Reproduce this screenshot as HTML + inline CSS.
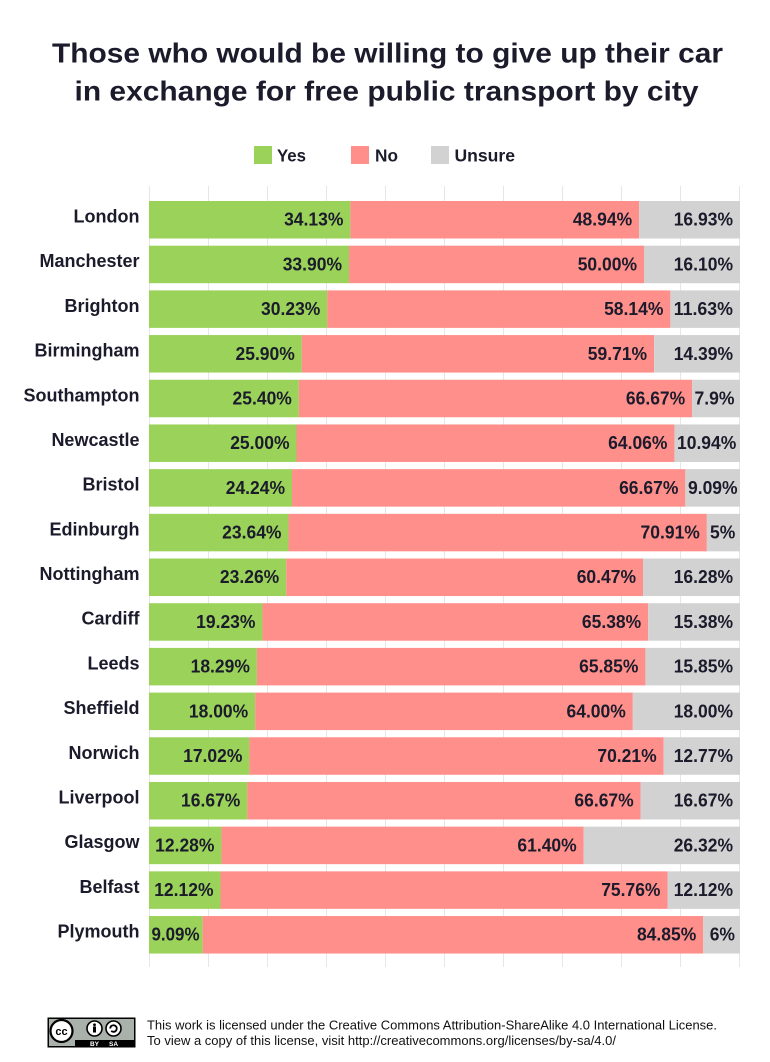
<!DOCTYPE html>
<html>
<head>
<meta charset="utf-8">
<style>
html,body{margin:0;padding:0;background:#fff;}
svg{display:block;}
text{font-family:"Liberation Sans",Arial,sans-serif;}
</style>
</head>
<body>
<svg width="770" height="1062" viewBox="0 0 770 1062" xmlns="http://www.w3.org/2000/svg">
<rect width="770" height="1062" fill="#fff"/>
<!-- Title -->
<g fill="#1b1b2b" font-weight="bold" font-size="27.5">
<text x="52" y="62.5" textLength="671" lengthAdjust="spacingAndGlyphs">Those who would be willing to give up their car</text>
<text x="74.5" y="100.5" textLength="624" lengthAdjust="spacingAndGlyphs">in exchange for free public transport by city</text>
</g>
<!-- Legend -->
<rect x="254" y="146" width="18" height="18" fill="#9ad25a"/>
<rect x="351" y="146" width="18" height="18" fill="#ff8f8b"/>
<rect x="431" y="146" width="18" height="18" fill="#d2d2d2"/>
<g fill="#1b1b2b" font-weight="bold" font-size="17.5">
<text x="277" y="161.7" textLength="29" lengthAdjust="spacingAndGlyphs">Yes</text>
<text x="375" y="161.7" textLength="23" lengthAdjust="spacingAndGlyphs">No</text>
<text x="454.5" y="161.7" textLength="60.5" lengthAdjust="spacingAndGlyphs">Unsure</text>
</g>
<!-- Gridlines -->
<g stroke="#e6e6e6" stroke-width="1">
<line x1="149.5" y1="186" x2="149.5" y2="967"/>
<line x1="208.5" y1="186" x2="208.5" y2="967"/>
<line x1="267.5" y1="186" x2="267.5" y2="967"/>
<line x1="326.5" y1="186" x2="326.5" y2="967"/>
<line x1="385.5" y1="186" x2="385.5" y2="967"/>
<line x1="444.5" y1="186" x2="444.5" y2="967"/>
<line x1="503.5" y1="186" x2="503.5" y2="967"/>
<line x1="562.5" y1="186" x2="562.5" y2="967"/>
<line x1="621.5" y1="186" x2="621.5" y2="967"/>
<line x1="680.5" y1="186" x2="680.5" y2="967"/>
<line x1="739.5" y1="186" x2="739.5" y2="967"/>
</g>
<!-- Bars -->
<g>
<!-- London -->
<rect x="149" y="201" width="201.37" height="37.5" fill="#9ad25a"/>
<rect x="350.37" y="201" width="288.75" height="37.5" fill="#ff8f8b"/>
<rect x="639.12" y="201" width="100.88" height="37.5" fill="#d2d2d2"/>
<!-- Manchester -->
<rect x="149" y="245.69" width="200.01" height="37.5" fill="#9ad25a"/>
<rect x="349.01" y="245.69" width="295" height="37.5" fill="#ff8f8b"/>
<rect x="644.01" y="245.69" width="95.99" height="37.5" fill="#d2d2d2"/>
<!-- Brighton -->
<rect x="149" y="290.38" width="178.36" height="37.5" fill="#9ad25a"/>
<rect x="327.36" y="290.38" width="343.03" height="37.5" fill="#ff8f8b"/>
<rect x="670.39" y="290.38" width="69.61" height="37.5" fill="#d2d2d2"/>
<!-- Birmingham -->
<rect x="149" y="335.07" width="152.81" height="37.5" fill="#9ad25a"/>
<rect x="301.81" y="335.07" width="352.29" height="37.5" fill="#ff8f8b"/>
<rect x="654.10" y="335.07" width="85.9" height="37.5" fill="#d2d2d2"/>
<!-- Southampton -->
<rect x="149" y="379.76" width="149.86" height="37.5" fill="#9ad25a"/>
<rect x="298.86" y="379.76" width="393.35" height="37.5" fill="#ff8f8b"/>
<rect x="692.21" y="379.76" width="47.79" height="37.5" fill="#d2d2d2"/>
<!-- Newcastle -->
<rect x="149" y="424.45" width="147.5" height="37.5" fill="#9ad25a"/>
<rect x="296.5" y="424.45" width="377.95" height="37.5" fill="#ff8f8b"/>
<rect x="674.45" y="424.45" width="65.55" height="37.5" fill="#d2d2d2"/>
<!-- Bristol -->
<rect x="149" y="469.14" width="143.02" height="37.5" fill="#9ad25a"/>
<rect x="292.02" y="469.14" width="393.35" height="37.5" fill="#ff8f8b"/>
<rect x="685.37" y="469.14" width="54.63" height="37.5" fill="#d2d2d2"/>
<!-- Edinburgh -->
<rect x="149" y="513.83" width="139.48" height="37.5" fill="#9ad25a"/>
<rect x="288.48" y="513.83" width="418.37" height="37.5" fill="#ff8f8b"/>
<rect x="706.85" y="513.83" width="33.15" height="37.5" fill="#d2d2d2"/>
<!-- Nottingham -->
<rect x="149" y="558.52" width="137.23" height="37.5" fill="#9ad25a"/>
<rect x="286.23" y="558.52" width="356.77" height="37.5" fill="#ff8f8b"/>
<rect x="643.0" y="558.52" width="97" height="37.5" fill="#d2d2d2"/>
<!-- Cardiff -->
<rect x="149" y="603.21" width="113.46" height="37.5" fill="#9ad25a"/>
<rect x="262.46" y="603.21" width="385.74" height="37.5" fill="#ff8f8b"/>
<rect x="648.2" y="603.21" width="91.8" height="37.5" fill="#d2d2d2"/>
<!-- Leeds -->
<rect x="149" y="647.9" width="107.91" height="37.5" fill="#9ad25a"/>
<rect x="256.91" y="647.9" width="388.52" height="37.5" fill="#ff8f8b"/>
<rect x="645.43" y="647.9" width="94.57" height="37.5" fill="#d2d2d2"/>
<!-- Sheffield -->
<rect x="149" y="692.59" width="106.2" height="37.5" fill="#9ad25a"/>
<rect x="255.2" y="692.59" width="377.6" height="37.5" fill="#ff8f8b"/>
<rect x="632.8" y="692.59" width="107.2" height="37.5" fill="#d2d2d2"/>
<!-- Norwich -->
<rect x="149" y="737.28" width="100.42" height="37.5" fill="#9ad25a"/>
<rect x="249.42" y="737.28" width="414.24" height="37.5" fill="#ff8f8b"/>
<rect x="663.66" y="737.28" width="76.34" height="37.5" fill="#d2d2d2"/>
<!-- Liverpool -->
<rect x="149" y="781.97" width="98.35" height="37.5" fill="#9ad25a"/>
<rect x="247.35" y="781.97" width="393.35" height="37.5" fill="#ff8f8b"/>
<rect x="640.7" y="781.97" width="99.3" height="37.5" fill="#d2d2d2"/>
<!-- Glasgow -->
<rect x="149" y="826.66" width="72.45" height="37.5" fill="#9ad25a"/>
<rect x="221.45" y="826.66" width="362.26" height="37.5" fill="#ff8f8b"/>
<rect x="583.71" y="826.66" width="156.29" height="37.5" fill="#d2d2d2"/>
<!-- Belfast -->
<rect x="149" y="871.35" width="71.51" height="37.5" fill="#9ad25a"/>
<rect x="220.51" y="871.35" width="446.98" height="37.5" fill="#ff8f8b"/>
<rect x="667.49" y="871.35" width="72.51" height="37.5" fill="#d2d2d2"/>
<!-- Plymouth -->
<rect x="149" y="916.04" width="53.63" height="37.5" fill="#9ad25a"/>
<rect x="202.63" y="916.04" width="500.62" height="37.5" fill="#ff8f8b"/>
<rect x="703.25" y="916.04" width="36.75" height="37.5" fill="#d2d2d2"/>
</g>
<!-- City labels -->
<g fill="#1b1b2b" font-weight="bold" font-size="18" text-anchor="end">
<text x="139.5" y="222.5">London</text>
<text x="139.5" y="267.2">Manchester</text>
<text x="139.5" y="311.9">Brighton</text>
<text x="139.5" y="356.6">Birmingham</text>
<text x="139.5" y="401.3">Southampton</text>
<text x="139.5" y="446.0">Newcastle</text>
<text x="139.5" y="490.6">Bristol</text>
<text x="139.5" y="535.3">Edinburgh</text>
<text x="139.5" y="580.0">Nottingham</text>
<text x="139.5" y="624.7">Cardiff</text>
<text x="139.5" y="669.4">Leeds</text>
<text x="139.5" y="714.1">Sheffield</text>
<text x="139.5" y="758.8">Norwich</text>
<text x="139.5" y="803.5">Liverpool</text>
<text x="139.5" y="848.2">Glasgow</text>
<text x="139.5" y="892.9">Belfast</text>
<text x="139.5" y="937.5">Plymouth</text>
</g>
<!-- Value labels -->
<g fill="#1b1b2b" font-weight="bold" font-size="18.5">
<!-- London -->
<text x="343.37" y="225.7" text-anchor="end" textLength="59.3" lengthAdjust="spacingAndGlyphs">34.13%</text>
<text x="632.12" y="225.7" text-anchor="end" textLength="59.3" lengthAdjust="spacingAndGlyphs">48.94%</text>
<text x="733" y="225.7" text-anchor="end" textLength="59.3" lengthAdjust="spacingAndGlyphs">16.93%</text>
<!-- Manchester -->
<text x="342.01" y="270.4" text-anchor="end" textLength="59.3" lengthAdjust="spacingAndGlyphs">33.90%</text>
<text x="637.01" y="270.4" text-anchor="end" textLength="59.3" lengthAdjust="spacingAndGlyphs">50.00%</text>
<text x="733" y="270.4" text-anchor="end" textLength="59.3" lengthAdjust="spacingAndGlyphs">16.10%</text>
<!-- Brighton -->
<text x="320.36" y="315.1" text-anchor="end" textLength="59.3" lengthAdjust="spacingAndGlyphs">30.23%</text>
<text x="663.39" y="315.1" text-anchor="end" textLength="59.3" lengthAdjust="spacingAndGlyphs">58.14%</text>
<text x="733" y="315.1" text-anchor="end" textLength="59.3" lengthAdjust="spacingAndGlyphs">11.63%</text>
<!-- Birmingham -->
<text x="294.81" y="359.8" text-anchor="end" textLength="59.3" lengthAdjust="spacingAndGlyphs">25.90%</text>
<text x="647.10" y="359.8" text-anchor="end" textLength="59.3" lengthAdjust="spacingAndGlyphs">59.71%</text>
<text x="733" y="359.8" text-anchor="end" textLength="59.3" lengthAdjust="spacingAndGlyphs">14.39%</text>
<!-- Southampton -->
<text x="291.86" y="404.5" text-anchor="end" textLength="59.3" lengthAdjust="spacingAndGlyphs">25.40%</text>
<text x="685.21" y="404.5" text-anchor="end" textLength="59.3" lengthAdjust="spacingAndGlyphs">66.67%</text>
<text x="694.5" y="404.5" textLength="40" lengthAdjust="spacingAndGlyphs">7.9%</text>
<!-- Newcastle -->
<text x="289.5" y="449.2" text-anchor="end" textLength="59.3" lengthAdjust="spacingAndGlyphs">25.00%</text>
<text x="667.45" y="449.2" text-anchor="end" textLength="59.3" lengthAdjust="spacingAndGlyphs">64.06%</text>
<text x="677" y="449.2" textLength="59.3" lengthAdjust="spacingAndGlyphs">10.94%</text>
<!-- Bristol -->
<text x="285.02" y="493.8" text-anchor="end" textLength="59.3" lengthAdjust="spacingAndGlyphs">24.24%</text>
<text x="678.37" y="493.8" text-anchor="end" textLength="59.3" lengthAdjust="spacingAndGlyphs">66.67%</text>
<text x="688" y="493.8" textLength="49.6" lengthAdjust="spacingAndGlyphs">9.09%</text>
<!-- Edinburgh -->
<text x="281.48" y="538.5" text-anchor="end" textLength="59.3" lengthAdjust="spacingAndGlyphs">23.64%</text>
<text x="699.85" y="538.5" text-anchor="end" textLength="59.3" lengthAdjust="spacingAndGlyphs">70.91%</text>
<text x="710" y="538.5" textLength="25.3" lengthAdjust="spacingAndGlyphs">5%</text>
<!-- Nottingham -->
<text x="279.23" y="583.2" text-anchor="end" textLength="59.3" lengthAdjust="spacingAndGlyphs">23.26%</text>
<text x="636.0" y="583.2" text-anchor="end" textLength="59.3" lengthAdjust="spacingAndGlyphs">60.47%</text>
<text x="733" y="583.2" text-anchor="end" textLength="59.3" lengthAdjust="spacingAndGlyphs">16.28%</text>
<!-- Cardiff -->
<text x="255.46" y="627.9" text-anchor="end" textLength="59.3" lengthAdjust="spacingAndGlyphs">19.23%</text>
<text x="641.2" y="627.9" text-anchor="end" textLength="59.3" lengthAdjust="spacingAndGlyphs">65.38%</text>
<text x="733" y="627.9" text-anchor="end" textLength="59.3" lengthAdjust="spacingAndGlyphs">15.38%</text>
<!-- Leeds -->
<text x="249.91" y="672.6" text-anchor="end" textLength="59.3" lengthAdjust="spacingAndGlyphs">18.29%</text>
<text x="638.43" y="672.6" text-anchor="end" textLength="59.3" lengthAdjust="spacingAndGlyphs">65.85%</text>
<text x="733" y="672.6" text-anchor="end" textLength="59.3" lengthAdjust="spacingAndGlyphs">15.85%</text>
<!-- Sheffield -->
<text x="248.2" y="717.3" text-anchor="end" textLength="59.3" lengthAdjust="spacingAndGlyphs">18.00%</text>
<text x="625.8" y="717.3" text-anchor="end" textLength="59.3" lengthAdjust="spacingAndGlyphs">64.00%</text>
<text x="733" y="717.3" text-anchor="end" textLength="59.3" lengthAdjust="spacingAndGlyphs">18.00%</text>
<!-- Norwich -->
<text x="242.42" y="762.0" text-anchor="end" textLength="59.3" lengthAdjust="spacingAndGlyphs">17.02%</text>
<text x="656.66" y="762.0" text-anchor="end" textLength="59.3" lengthAdjust="spacingAndGlyphs">70.21%</text>
<text x="733" y="762.0" text-anchor="end" textLength="59.3" lengthAdjust="spacingAndGlyphs">12.77%</text>
<!-- Liverpool -->
<text x="240.35" y="806.7" text-anchor="end" textLength="59.3" lengthAdjust="spacingAndGlyphs">16.67%</text>
<text x="633.7" y="806.7" text-anchor="end" textLength="59.3" lengthAdjust="spacingAndGlyphs">66.67%</text>
<text x="733" y="806.7" text-anchor="end" textLength="59.3" lengthAdjust="spacingAndGlyphs">16.67%</text>
<!-- Glasgow -->
<text x="214.45" y="851.4" text-anchor="end" textLength="59.3" lengthAdjust="spacingAndGlyphs">12.28%</text>
<text x="576.71" y="851.4" text-anchor="end" textLength="59.3" lengthAdjust="spacingAndGlyphs">61.40%</text>
<text x="733" y="851.4" text-anchor="end" textLength="59.3" lengthAdjust="spacingAndGlyphs">26.32%</text>
<!-- Belfast -->
<text x="213.51" y="896.1" text-anchor="end" textLength="59.3" lengthAdjust="spacingAndGlyphs">12.12%</text>
<text x="660.49" y="896.1" text-anchor="end" textLength="59.3" lengthAdjust="spacingAndGlyphs">75.76%</text>
<text x="733" y="896.1" text-anchor="end" textLength="59.3" lengthAdjust="spacingAndGlyphs">12.12%</text>
<!-- Plymouth -->
<text x="151.5" y="940.7" textLength="48" lengthAdjust="spacingAndGlyphs">9.09%</text>
<text x="696.25" y="940.7" text-anchor="end" textLength="59.3" lengthAdjust="spacingAndGlyphs">84.85%</text>
<text x="735" y="940.7" text-anchor="end" textLength="25.3" lengthAdjust="spacingAndGlyphs">6%</text>
</g>
<!-- CC badge -->
<g>
<rect x="47.5" y="1017.5" width="88" height="30" fill="#000"/>
<rect x="49" y="1019" width="85" height="21" fill="#aab1aa"/>
<rect x="49" y="1019" width="26" height="27" fill="#aab1aa"/>
<circle cx="61.5" cy="1031" r="11" fill="#fff" stroke="#000" stroke-width="2.2"/>
<text x="61.5" y="1035" font-size="11" font-weight="bold" text-anchor="middle" fill="#000">cc</text>
<circle cx="94.5" cy="1028.5" r="7.5" fill="#fff" stroke="#000" stroke-width="1.6"/>
<circle cx="94.5" cy="1024.8" r="1.4" fill="#000"/>
<rect x="93" y="1026.5" width="3" height="6" fill="#000"/>
<circle cx="113.5" cy="1028.5" r="7.5" fill="#fff" stroke="#000" stroke-width="1.6"/>
<path d="M110.2 1028.5 a3.3 3.3 0 1 1 1 2.4" fill="none" stroke="#000" stroke-width="1.8"/>
<text x="94.5" y="1046" font-size="6.5" font-weight="bold" text-anchor="middle" fill="#fff">BY</text>
<text x="113.5" y="1046" font-size="6.5" font-weight="bold" text-anchor="middle" fill="#fff">SA</text>
</g>
<!-- Footer text -->
<g fill="#111" font-size="13">
<text x="147" y="1029.3" textLength="570" lengthAdjust="spacingAndGlyphs">This work is licensed under the Creative Commons Attribution-ShareAlike 4.0 International License.</text>
<text x="147" y="1045" textLength="469" lengthAdjust="spacingAndGlyphs">To view a copy of this license, visit http://creativecommons.org/licenses/by-sa/4.0/</text>
</g>
</svg>
</body>
</html>
